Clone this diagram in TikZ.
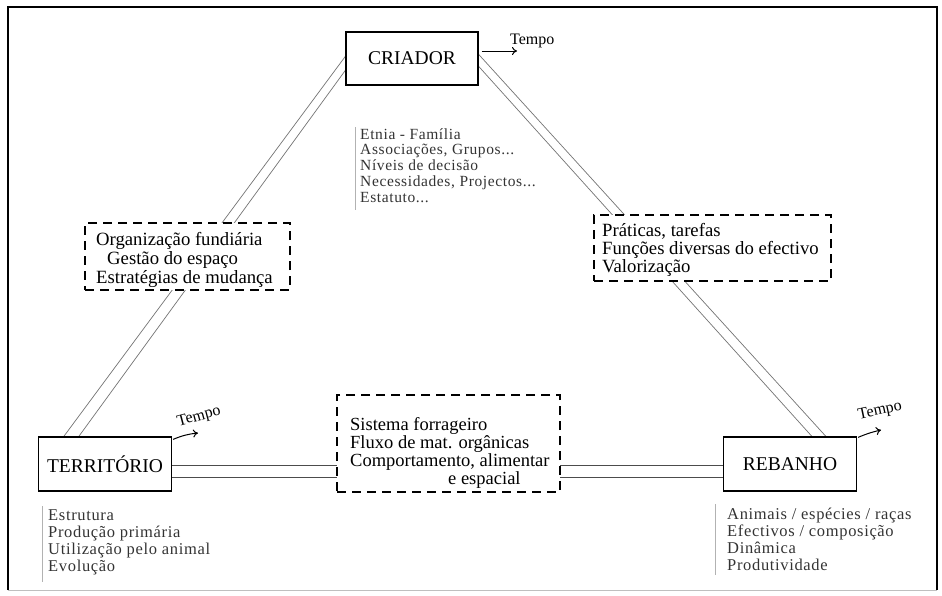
\documentclass[tikz,border=0pt]{standalone}
\usepackage{fontspec}
\setmainfont{Liberation Serif}
\newfontfamily\listfont[LetterSpace=4]{Liberation Serif}
\usetikzlibrary{arrows.meta,calc}
\newcommand\mylines[1]{\begin{tabular}[t]{@{}l@{}}#1\end{tabular}}
\begin{document}
\begin{tikzpicture}[x=1pt,y=-1pt,
  mainbox/.style={draw,line width=1.3pt,fill=white,minimum width=133pt,minimum height=54pt,
    font=\fontsize{19.5}{19.5}\selectfont,inner sep=0pt},
  dbox/.style={draw,line width=1.6pt,dash pattern=on 9pt off 6pt,fill=white,inner sep=0pt},
  conn/.style={draw=black!55,line width=0.7pt},
  hconn/.style={draw=black!70,line width=0.8pt},
  boxtext/.style={anchor=base west,inner sep=0pt,font=\fontsize{18.7}{19}\selectfont},
  clist/.style={anchor=base west,inner sep=0pt,text=black!80,font=\listfont\fontsize{15.5}{15.8}\selectfont},
  blist/.style={anchor=base west,inner sep=0pt,text=black!80,font=\listfont\fontsize{16.5}{17}\selectfont},
  bar/.style={draw=black!30,line width=0.6pt},
  tarrow/.style={-{To[length=5pt,width=8pt]},line width=1pt},
  tlabel/.style={font=\fontsize{16}{16}\selectfont,inner sep=0pt}]
\useasboundingbox (0,0) rectangle (942,595);
% frame
\draw[line width=1.2pt] (8,590) -- (8,7) -- (937,7) -- (937,590);
\draw[black!25,line width=0.6pt] (8,590) -- (937,590);

% main box positions
\coordinate (pc) at (412,58.5);
\coordinate (pt) at (105,464);
\coordinate (pr) at (790,464);
\node[mainbox,minimum width=132pt,minimum height=53pt] (cri) at (pc) {};
\node[mainbox] (ter) at (pt) {};
\node[mainbox] (reb) at (pr) {};

% double connectors
\draw[conn] ($(cri.north west)+(0,25)$) -- ($(ter.north west)+(26,0)$);
\draw[conn] ($(cri.north west)+(0,39)$) -- ($(ter.north west)+(41,0)$);
\draw[conn] ($(cri.north east)+(0,23)$) -- ($(reb.north west)+(103,0)$);
\draw[conn] ($(cri.north east)+(0,35)$) -- ($(reb.north west)+(89,0)$);
\draw[hconn] ($(ter.east)+(0,1)$) -- ($(reb.west)+(0,1)$);
\draw[hconn] ($(ter.east)+(0,13)$) -- ($(reb.west)+(0,13)$);

% dashed boxes
\node[dbox,minimum width=205pt,minimum height=67pt] (dl) at (187.5,256.5) {};
\node[dbox,minimum width=237pt,minimum height=66pt] (dr) at (712.5,248) {};
\node[dbox,minimum width=223pt,minimum height=97pt] (dm) at (448.5,443.5) {};

% main boxes on top with labels
\node[mainbox,minimum width=132pt,minimum height=53pt] (cri2) at (pc) {CRIADOR};
\node[mainbox] (ter2) at (pt) {TERRITÓRIO};
\node[mainbox] (reb2) at (pr) {REBANHO};

% dashed box texts
\node[boxtext] (tl) at (96,245) {\mylines{Organização fundiária\\\hspace{11pt}Gestão do espaço\\Estratégias de mudança}};
\node[boxtext,font=\fontsize{18.7}{18}\selectfont] (tr) at (602,236) {\mylines{Práticas, tarefas\\Funções diversas do efectivo\\Valorização}};
\node[boxtext,font=\fontsize{18.5}{17.5}\selectfont] (tm) at (350,430) {\mylines{Sistema forrageiro\\Fluxo de mat. orgânicas\\Comportamento, alimentar\\\hspace{98pt}e espacial}};

% lists
\draw[bar] (355,127) -- (355,210);
\node[clist] (lc) at (360,139) {\mylines{Etnia - Família\\Associações, Grupos...\\Níveis de decisão\\Necessidades, Projectos...\\Estatuto...}};
\draw[bar] (42,506) -- (42,582);
\node[blist] (ll) at (48,520) {\mylines{Estrutura\\Produção primária\\Utilização pelo animal\\Evolução}};
\draw[bar] (715,504) -- (715,575);
\node[blist] (lr) at (727,519) {\mylines{Animais / espécies / raças\\Efectivos / composição\\Dinâmica\\Produtividade}};

% Tempo arrows
\coordinate (a1) at (517,51);
\draw[tarrow] ($(cri2.east)+(3,-7.5)$) -- (a1);
\node[tlabel,anchor=base west] (t1) at (510,44) {Tempo};
\coordinate (a2) at (198,433);
\draw[tarrow] ($(ter2.north east)+(1,3)$) to[bend left=8] (a2);
\node[tlabel,rotate=15] (t2) at (199,417) {Tempo};
\coordinate (a3) at (881,430);
\draw[tarrow] ($(reb2.north east)+(1,1)$) to[bend left=5] (a3);
\node[tlabel,rotate=12] (t3) at (880,411) {Tempo};
\end{tikzpicture}
\end{document}
